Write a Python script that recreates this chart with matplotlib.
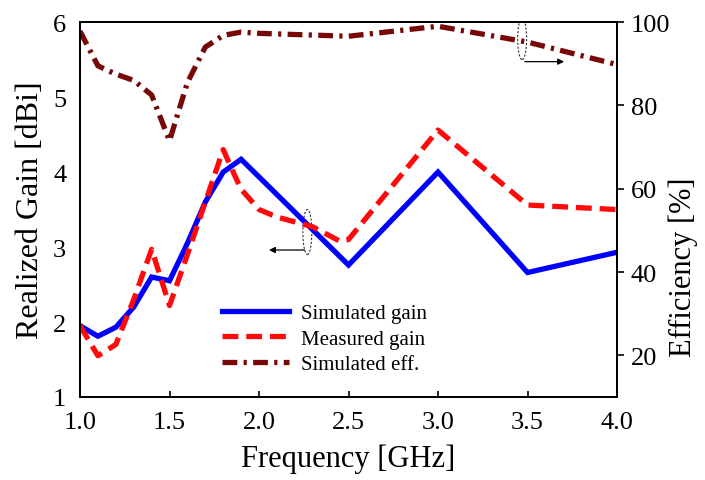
import matplotlib
matplotlib.use("Agg")
import matplotlib.pyplot as plt
from matplotlib.patches import Ellipse

plt.rcParams['font.family'] = ['Liberation Serif', 'DejaVu Serif']

# data
freq_sim = [1.0, 1.1, 1.2, 1.3, 1.4, 1.5, 1.6, 1.7, 1.8, 1.9, 2.5, 3.0, 3.5, 4.0]
gain_sim = [1.95, 1.81, 1.93, 2.2, 2.6, 2.55, 3.05, 3.6, 4.0, 4.17, 2.76, 4.0, 2.66, 2.93]

freq_meas = [1.0, 1.1, 1.2, 1.3, 1.4, 1.5, 1.6, 1.7, 1.8, 1.85, 1.9, 2.0, 2.1, 2.3, 2.45, 2.5,
             3.0, 3.5, 4.0]
gain_meas = [1.95, 1.55, 1.7, 2.3, 2.97, 2.22, 2.9, 3.6, 4.3, 4.03, 3.77, 3.5, 3.4, 3.27, 3.08, 3.1,
             4.56, 3.56, 3.5]

freq_eff = [1.0, 1.1, 1.2, 1.3, 1.4, 1.5, 1.6, 1.7, 1.8, 1.9, 2.0, 2.5, 3.0, 3.5, 4.0]
eff_sim = [97.8, 89.5, 87.5, 86.0, 82.5, 71.5, 85.5, 94.0, 96.8, 97.6, 97.3, 96.6, 99.0, 95.2, 89.8]

fig = plt.figure(figsize=(7.05, 4.81), dpi=100)
ax = fig.add_axes([0.1135, 0.1726, 0.7617, 0.7794])
ax2 = ax.twinx()

l1, = ax.plot(freq_sim, gain_sim, color='#0000ff', lw=3.8, solid_joinstyle='miter',
              label='Simulated gain')
l2, = ax.plot(freq_meas, gain_meas, color='#ff0a0a', lw=3.8, dashes=(3, 1.5),
              label='Measured gain')
l3, = ax2.plot(freq_eff, eff_sim, color='#780808', lw=3.8, dashes=(2.8, 1.2, 0.6, 1.2),
               label='Simulated eff.')

ax.set_xlim(1.0, 4.0)
ax.set_ylim(1, 6)
ax2.set_ylim(10, 100)
ax.set_xticks([1.0, 1.5, 2.0, 2.5, 3.0, 3.5, 4.0])
ax.set_xticklabels(['1.0', '1.5', '2.0', '2.5', '3.0', '3.5', '4.0'])
ax.set_yticks([1, 2, 3, 4, 5, 6])
ax2.set_yticks([20, 40, 60, 80, 100])

ax.tick_params(axis='x', direction='in', length=4, width=1.2, labelsize=19, pad=10)
ax.tick_params(axis='y', direction='in', length=0, labelsize=19, pad=10)
ax2.tick_params(axis='y', direction='out', length=5, width=1.2, labelsize=19, pad=5)
for a in (ax, ax2):
    for s in a.spines.values():
        s.set_linewidth(1.4)

ax.set_xlabel('Frequency [GHz]', fontsize=22, labelpad=8)
ax.set_ylabel('Realized Gain [dBi]', fontsize=23, labelpad=6)
ax2.set_ylabel('Efficiency [%]', fontsize=22)
ax2.yaxis.set_label_coords(1.095, 0.35)

# annotation ellipses and arrows
ax.add_patch(Ellipse((2.27, 3.2), 0.05, 0.6, fill=False, ls=(0, (2, 1.5)), lw=0.8, color='#333333'))
ax.annotate('', xy=(2.04, 2.96), xytext=(2.27, 2.96),
            arrowprops=dict(arrowstyle='-|>', color='black', lw=0.9, mutation_scale=9))
ax2.add_patch(Ellipse((3.47, 96), 0.05, 10, fill=False, ls=(0, (2, 1.5)), lw=0.8, color='#333333'))
ax2.annotate('', xy=(3.72, 90.5), xytext=(3.47, 90.5),
             arrowprops=dict(arrowstyle='-|>', color='black', lw=0.9, mutation_scale=9))

leg = ax.legend(handles=[l1, l2, l3], loc='lower left', bbox_to_anchor=(0.23, 0.01),
                frameon=False, fontsize=15, handlelength=3.2, handletextpad=0.6,
                labelspacing=0.3)

fig.savefig('out.png', dpi=100)
